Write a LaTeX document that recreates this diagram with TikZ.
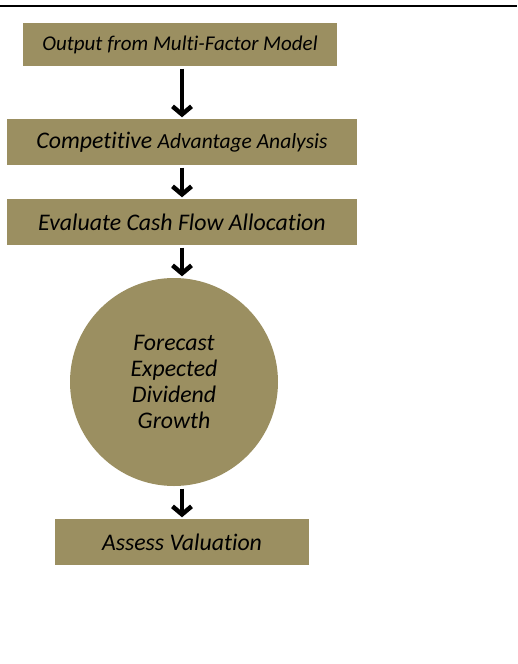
\documentclass[tikz,border=0pt]{standalone}
\usepackage{fontspec}
\setmainfont{Carlito}[Ligatures=NoCommon]
\usepackage{xcolor}
\usetikzlibrary{arrows, arrows.meta}
\definecolor{olivebox}{RGB}{155,143,97}

\begin{document}
\begin{tikzpicture}[x=1pt,y=-1pt]
    \tikzset{stepbox/.style={fill=olivebox, inner sep=0pt, font=\itshape\fontsize{23.8}{26}\selectfont},
             flowarrow/.style={line width=4.5pt, -{Straight Barb[length=8pt,width=19pt]}, shorten <=2.5pt, shorten >=1.5pt}}
    \useasboundingbox (0,0) rectangle (517,664);

    \draw[line width=2pt] (0,6) -- (517,6);

    \def\FlowX{182}
    \node[stepbox, minimum width=314pt, minimum height=43pt, font=\itshape\fontsize{21}{25}\selectfont] (output) at (180,44.5) {Output from Multi-Factor Model};
    \node[stepbox, minimum width=350pt, minimum height=46pt] (advantage) at (\FlowX,142) {Competitive {\fontsize{21.5}{25}\selectfont Advantage Analysis}};
    \node[stepbox, minimum width=350pt, minimum height=46pt] (cashflow) at (\FlowX,222) {Evaluate Cash Flow Allocation};
    \node[stepbox, circle, minimum size=208pt, align=center] (forecast) at (174,382) {Forecast\\Expected\\Dividend\\Growth};
    \node[stepbox, minimum width=254pt, minimum height=46pt] (valuation) at (\FlowX,542) {Assess Valuation};

    \draw[flowarrow] (output.south -| advantage.north) -- (advantage.north);
    \draw[flowarrow] (advantage.south) -- (cashflow.north);
    \draw[flowarrow] (cashflow.south) -- (cashflow.south |- forecast.north);
    \draw[flowarrow] (valuation.north |- forecast.south) -- (valuation.north);

\end{tikzpicture}
\end{document}
